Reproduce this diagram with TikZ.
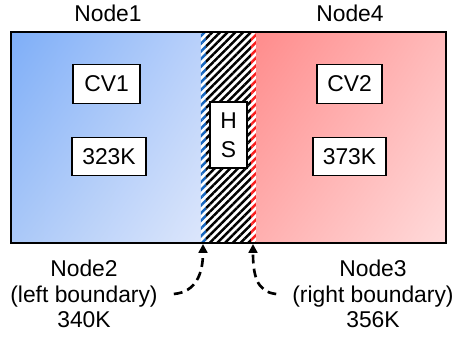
\documentclass[tikz,border=0pt]{standalone}
\usepackage{fontspec}
\setmainfont{Liberation Sans}
\usetikzlibrary{patterns.meta}
\usetikzlibrary{shadings}
\usetikzlibrary{arrows.meta}
\definecolor{coldA}{RGB}{126,174,248}
\definecolor{coldB}{RGB}{184,208,250}
\definecolor{coldC}{RGB}{170,200,248}
\definecolor{coldD}{RGB}{220,230,251}
\definecolor{hotA}{RGB}{255,140,140}
\definecolor{hotB}{RGB}{255,186,186}
\definecolor{hotC}{RGB}{255,176,176}
\definecolor{hotD}{RGB}{255,218,218}
\definecolor{edgeblue}{RGB}{20,100,190}
\definecolor{edgered}{RGB}{250,30,30}
\newcommand\hatch[3]{\fill[white] (#1,32) rectangle (#2,243);\fill[pattern={Lines[angle=45,distance=3.1pt,line width=1.4pt]},pattern color=#3] (#1,32) rectangle (#2,243);}
\tikzset{valbox/.style={draw=black,fill=white,line width=0.6pt,inner sep=0pt,minimum height=0.77cm},
  lbl/.style={align=center,font=\fontsize{13}{14.5}\selectfont},
  bnd/.style={dashed,dash pattern=on 5pt off 3pt,line width=1.5pt,-{Triangle[length=5pt,width=5pt]}}}

\begin{document}
\begin{tikzpicture}[x=0.02cm,y=-0.02cm,font=\fontsize{13}{16.5}\selectfont]
\useasboundingbox (0,0) rectangle (458,337);
% the two control volumes
\shade[upper left=coldA,upper right=coldB,lower left=coldC,lower right=coldD] (11,32) rectangle (201,243);
\shade[upper left=hotA,upper right=hotB,lower left=hotC,lower right=hotD] (256,32) rectangle (446,243);
% heat structure
\hatch{201}{206}{edgeblue}
\hatch{206}{251}{black}
\hatch{251}{256}{edgered}
\draw[line width=0.8pt] (11,32) rectangle (446,243);

\node[valbox,minimum width=1.34cm] (cv1) at (106.5,84) {CV1};
\node[valbox,minimum width=1.48cm] (t1) at (109,156.5) {323K};
\node[valbox,minimum width=1.30cm] (cv2) at (349.5,84) {CV2};
\node[valbox,minimum width=1.46cm] (t2) at (349.5,156.5) {373K};
\node[valbox,minimum width=0.74cm,minimum height=1.32cm,align=center] (hs) at (228.5,135) {H\\S};

\node[lbl] (node1) at (108,13) {Node1};
\node[lbl] (node4) at (350,13) {Node4};
\node[lbl] (node2) at (84,294) {Node2\\(left boundary)\\340K};
\node[lbl] (node3) at (373,294) {Node3\\(right boundary)\\356K};

\coordinate (lb) at (203,244);
\coordinate (rb) at (253,244);
\draw[bnd] ([xshift=0.2cm]node2.east) .. controls +(22,-2) and +(0,30) .. (lb);
\draw[bnd] ([xshift=-0.2cm]node3.west) .. controls +(-20,-2) and +(0,30) .. (rb);
\end{tikzpicture}
\end{document}
